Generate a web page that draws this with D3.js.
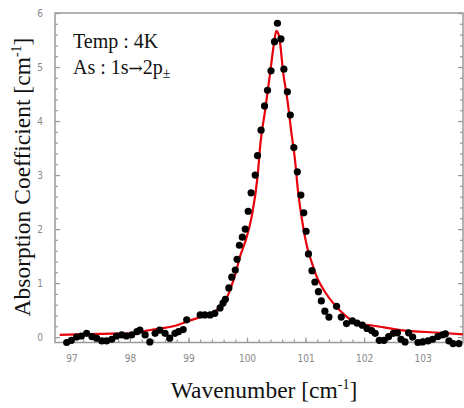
<!DOCTYPE html>
<html>
<head>
<style>
  body { margin: 0; background: #fff; }
  text { font-family: "Liberation Serif", "Times New Roman", serif; }
  .tick text { font-family: "Liberation Sans Narrow", "DejaVu Sans Condensed", sans-serif; font-size: 10px; fill: #888; }
</style>
</head>
<body>
<script src="https://d3js.org/d3.v7.min.js"></script>
<script>

const width = 464;
const height = 408;

// measured points (wavenumber, absorption)
const dotX = [96.92, 97.00, 97.09, 97.17, 97.26, 97.35, 97.43, 97.52, 97.60, 97.69,
  97.77, 97.86, 97.94, 98.03, 98.12, 98.17, 98.26, 98.34, 98.43, 98.51,
  98.60, 98.68, 98.77, 98.83, 98.91, 98.97, 99.20, 99.28, 99.37, 99.45,
  99.54, 99.59, 99.63, 99.69, 99.74, 99.80, 99.83, 99.87, 99.92, 99.97,
  100.02, 100.07, 100.14, 100.18, 100.24, 100.30, 100.35, 100.41, 100.47, 100.52,
  100.58, 100.63, 100.69, 100.74, 100.80, 100.86, 100.92, 100.97, 101.01, 101.05,
  101.11, 101.16, 101.22, 101.27, 101.33, 101.40, 101.53, 101.61, 101.70, 101.80,
  101.88, 101.97, 102.05, 102.13, 102.19, 102.26, 102.34, 102.42, 102.50, 102.57,
  102.63, 102.70, 102.76, 102.83, 102.92, 103.00, 103.09, 103.17, 103.26, 103.34,
  103.39, 103.45, 103.52, 103.62];
const dotY = [-0.10, -0.06, 0.00, 0.02, 0.07, 0.01, -0.02, -0.07, -0.07, -0.04,
  0.02, 0.04, 0.02, 0.04, 0.10, 0.13, 0.04, -0.09, 0.07, 0.13,
  0.07, -0.02, 0.07, 0.10, 0.14, 0.32, 0.41, 0.41, 0.41, 0.44,
  0.54, 0.63, 0.70, 0.91, 1.11, 1.24, 1.44, 1.70, 1.85, 2.00,
  2.33, 2.67, 3.00, 3.36, 3.83, 4.28, 4.57, 4.93, 5.47, 5.81,
  5.52, 4.96, 4.54, 4.11, 3.51, 3.06, 2.63, 2.30, 1.96, 1.54,
  1.23, 1.02, 0.84, 0.67, 0.48, 0.37, 0.57, 0.37, 0.25, 0.30,
  0.26, 0.22, 0.16, 0.12, 0.07, -0.06, -0.06, 0.01, 0.07, 0.08,
  -0.04, -0.09, 0.08, 0.00, -0.10, -0.09, -0.07, -0.04, 0.01, 0.04,
  0.06, -0.07, -0.12, -0.12];

// fitted curve
const fitX = [96.80, 97.49, 98.01, 98.29, 98.51, 98.74, 99.01, 99.25, 99.48, 99.62,
  99.71, 99.82, 99.88, 99.98, 100.08, 100.18, 100.23, 100.31, 100.39, 100.47,
  100.50, 100.55, 100.62, 100.69, 100.76, 100.82, 100.87, 100.94, 101.02, 101.11,
  101.19, 101.33, 101.48, 101.70, 101.88, 102.16, 102.62, 103.30, 103.69];
const fitY = [0.04, 0.06, 0.07, 0.12, 0.16, 0.20, 0.30, 0.39, 0.50, 0.65,
  0.87, 1.24, 1.49, 1.80, 2.23, 2.97, 3.59, 4.20, 4.85, 5.50,
  5.67, 5.56, 4.88, 4.39, 3.77, 3.28, 2.72, 2.17, 1.70, 1.37,
  1.12, 0.84, 0.62, 0.38, 0.25, 0.21, 0.13, 0.08, 0.05];

const xTicks = [97, 98, 99, 100, 101, 102, 103];
const yTicks = [0, 1, 2, 3, 4, 5, 6];

const margin = { left: 55, right: 1, top: 13, bottom: 65.5 };

const svg = d3.select('body')
              .append('svg')
              .attr('width', width)
              .attr('height', height);

const x = d3.scaleLinear()
            .domain([96.72, 103.69])
            .range([margin.left, width - margin.right]);

const y = d3.scaleLinear()
            .domain([-0.1, 6])
            .range([height - margin.bottom, margin.top]);

const axisColor = '#9a9a9a';

// frame
svg.append('rect')
   .attr('x', x.range()[0])
   .attr('y', y.range()[1])
   .attr('width', x.range()[1] - x.range()[0])
   .attr('height', y.range()[0] - y.range()[1])
   .attr('fill', 'none')
   .attr('stroke', axisColor)
   .attr('stroke-width', 1.5);

const minorX = d3.range(97, 103.7, 0.2).filter(v => v >= 96.72);
const minorY = d3.range(0, 6.01, 0.2);

const styleAxis = g => {
  g.select('.domain').remove();
  g.selectAll('line').attr('stroke', axisColor).attr('stroke-width', 1.2);
};

// x minor + major ticks (inside)
svg.append('g')
   .attr('transform', `translate(0,${y.range()[0]})`)
   .call(d3.axisBottom(x).tickValues(minorX).tickSize(-3).tickFormat(''))
   .call(styleAxis);
svg.append('g')
   .attr('transform', `translate(0,${y.range()[0]})`)
   .call(d3.axisBottom(x).tickValues(xTicks).tickSize(-5).tickPadding(12).tickFormat(d3.format('d')))
   .call(styleAxis);

// y minor + major ticks, left and right
svg.append('g')
   .attr('transform', `translate(${x.range()[0]},0)`)
   .call(d3.axisLeft(y).tickValues(minorY).tickSize(-3).tickFormat(''))
   .call(styleAxis);
svg.append('g')
   .attr('transform', `translate(${x.range()[0]},0)`)
   .call(d3.axisLeft(y).tickValues(yTicks).tickSize(-5).tickPadding(12).tickFormat(d3.format('d')))
   .call(styleAxis);
svg.append('g')
   .attr('transform', `translate(${x.range()[1]},0)`)
   .call(d3.axisRight(y).tickValues(minorY).tickSize(-3).tickFormat(''))
   .call(styleAxis);
svg.append('g')
   .attr('transform', `translate(${x.range()[1]},0)`)
   .call(d3.axisRight(y).tickValues(yTicks).tickSize(-5).tickFormat(''))
   .call(styleAxis);

// fit line
const fit = fitX.map((v, i) => [v, fitY[i]]);
svg.append('path')
   .datum(fit)
   .attr('fill', 'none')
   .attr('stroke', '#e8000b')
   .attr('stroke-width', 2.2)
   .attr('d', d3.line().x(d => x(d[0])).y(d => y(d[1])).curve(d3.curveMonotoneX));

// data points
const dots = dotX.map((v, i) => [v, dotY[i]]);
svg.append('g')
   .selectAll('circle')
   .data(dots)
   .enter()
   .append('circle')
   .attr('cx', d => x(d[0]))
   .attr('cy', d => y(d[1]))
   .attr('r', 3.6)
   .attr('fill', '#000');

// annotation
const note = svg.append('g').attr('font-size', 20).attr('fill', '#111');
note.append('text').attr('x', 73).attr('y', 47.5).text('Temp : 4K');
const t2 = note.append('text').attr('x', 73).attr('y', 74);
t2.append('tspan').text('As : 1s');
t2.append('tspan').attr('font-family', 'DejaVu Serif').attr('font-size', 17).text('\u2192');
t2.append('tspan').text('2p');
t2.append('tspan').attr('font-size', 14).attr('dy', 4).text('\u00b1');

// axis titles
const xt = svg.append('text')
   .attr('x', 264)
   .attr('y', 398)
   .attr('text-anchor', 'middle')
   .attr('font-size', 23.5)
   .attr('fill', '#111');
xt.append('tspan').text('Wavenumber [cm');
xt.append('tspan').attr('font-size', 14).attr('dy', -9).text('-1');
xt.append('tspan').attr('dy', 9).text(']');

const yt = svg.append('text')
   .attr('transform', 'translate(30,177) rotate(-90)')
   .attr('text-anchor', 'middle')
   .attr('font-size', 23.5)
   .attr('fill', '#111');
yt.append('tspan').text('Absorption Coefficient [cm');
yt.append('tspan').attr('font-size', 14).attr('dy', -9).text('-1');
yt.append('tspan').attr('dy', 9).text(']');

</script>
</body>
</html>
